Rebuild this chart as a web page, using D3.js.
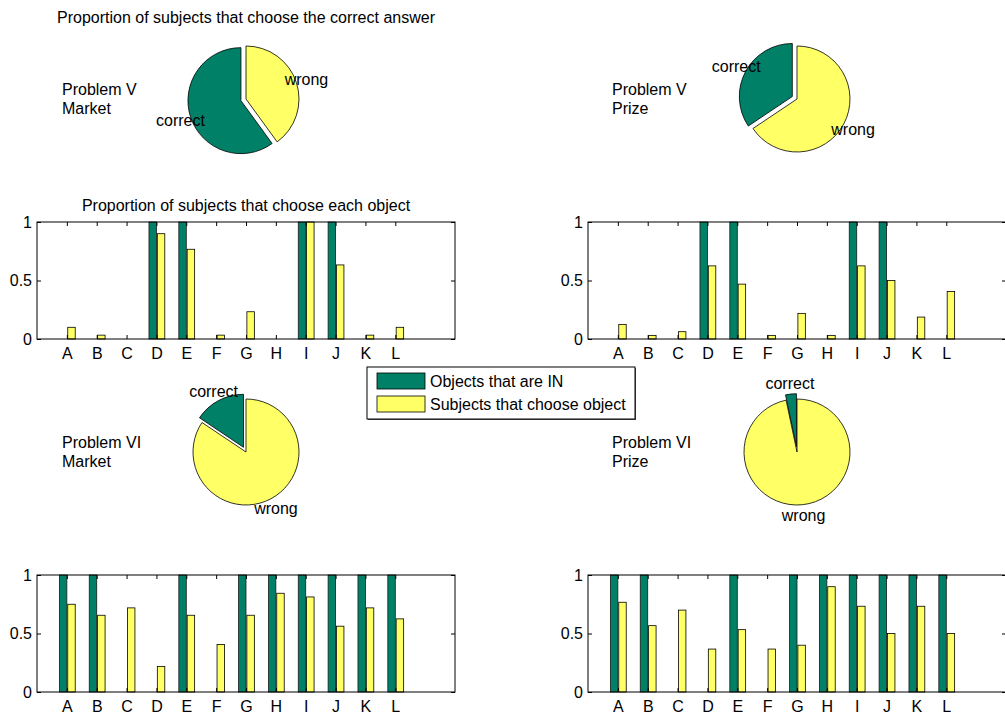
<!DOCTYPE html>
<html>
<head>
<meta charset="utf-8">
<script src="https://cdn.jsdelivr.net/npm/d3@7"></script>
<style>
  body { margin: 0; background: #fff; }
  text { font-family: "Liberation Sans", Arial, sans-serif; font-size: 16px; fill: #000; }
</style>
</head>
<body>
<svg id="fig" width="1005" height="718"></svg>
<script>
// data
var categories = ["A","B","C","D","E","F","G","H","I","J","K","L"];
var yTicks = [0, 0.5, 1];

var inV  = [0,0,0,1,1,0,0,0,1,1,0,0];
var inVI = [1,1,0,0,1,0,1,1,1,1,1,1];

var chooseVMarket  = [0.1, 0.033, 0, 0.9, 0.767, 0.033, 0.233, 0, 1.0, 0.633, 0.033, 0.1];
var chooseVPrize   = [0.125, 0.031, 0.0625, 0.625, 0.469, 0.031, 0.219, 0.031, 0.625, 0.5, 0.1875, 0.406];
var chooseVIMarket = [0.75, 0.656, 0.719, 0.219, 0.656, 0.406, 0.656, 0.844, 0.8125, 0.5625, 0.719, 0.625];
var chooseVIPrize  = [0.767, 0.567, 0.7, 0.367, 0.533, 0.367, 0.4, 0.9, 0.733, 0.5, 0.733, 0.5];

var pieLabels = ["correct", "wrong"];
var pieVMarket  = [0.6, 0.4];
var pieVPrize   = [0.344, 0.656];
var pieVIMarket = [0.156, 0.844];
var pieVIPrize  = [0.033, 0.967];

var legendLabels = ["Objects that are IN", "Subjects that choose object"];

var GREEN = "#008066";
var YELLOW = "#ffff66";

var svg = d3.select("#fig");

function drawBars(x0, y0, inVals, chooseVals)
{
  var w = 418, h = 117;
  var x = d3.scaleLinear().domain([0, 14]).range([x0, x0 + w]);
  var y = d3.scaleLinear().domain([0, 1]).range([y0 + h, y0]);
  var g = svg.append("g");
  var idx = d3.range(1, 13);

  g.selectAll("rect.in").data(inVals).enter().append("rect")
    .attr("x", (d, i) => x(i + 1 - 0.25))
    .attr("width", x(0.25) - x(0))
    .attr("y", d => y(d))
    .attr("height", d => y(0) - y(d))
    .attr("fill", GREEN)
    .attr("stroke", "#1a1a1a")
    .attr("stroke-width", 0.8);

  g.selectAll("rect.ch").data(chooseVals).enter().append("rect")
    .attr("x", (d, i) => x(i + 1 + 0.03))
    .attr("width", x(0.25) - x(0))
    .attr("y", d => y(d))
    .attr("height", d => y(0) - y(d))
    .attr("fill", YELLOW)
    .attr("stroke", "#000")
    .attr("stroke-width", 0.8);

  g.append("rect")
    .attr("x", x0).attr("y", y0).attr("width", w).attr("height", h)
    .attr("fill", "none").attr("stroke", "#000").attr("stroke-width", 1);

  var left = g.append("g").attr("transform", `translate(${x0},0)`)
    .call(d3.axisLeft(y).tickValues(yTicks).tickSize(-4).tickSizeOuter(0).tickPadding(5).tickFormat(d => String(d)));
  var right = g.append("g").attr("transform", `translate(${x0 + w},0)`)
    .call(d3.axisRight(y).tickValues(yTicks).tickSize(-4).tickSizeOuter(0).tickFormat(""));
  var top = g.append("g").attr("transform", `translate(0,${y0})`)
    .call(d3.axisTop(x).tickValues(idx).tickSize(-4).tickSizeOuter(0).tickFormat(""));
  var bottom = g.append("g").attr("transform", `translate(0,${y0 + h})`)
    .call(d3.axisBottom(x).tickValues(idx).tickSize(-4).tickSizeOuter(0).tickPadding(9).tickFormat(d => categories[d - 1]));

  [left, right, top, bottom].forEach(a => {
    a.select(".domain").remove();
    a.selectAll("line").attr("stroke", "#000");
    a.selectAll("text").style("font-size", "16px").attr("fill", "#000").style("font-family", "Liberation Sans, Arial, sans-serif");
  });
}

function drawPie(cx, cy, values, title1, title2, tx)
{
  var r = 53;
  var pie = d3.pie().sort(null).startAngle(0).endAngle(-2 * Math.PI);
  var arc = d3.arc().innerRadius(0).outerRadius(r);
  var arcs = pie(values);
  var g = svg.append("g").attr("transform", `translate(${cx},${cy})`);

  arcs.forEach((a, i) => {
    var mid = (a.startAngle + a.endAngle) / 2;
    var off = i == 0 ? 0.1 * r : 0;
    var dx = Math.sin(mid) * off, dy = -Math.cos(mid) * off;
    g.append("path")
      .attr("d", arc(a))
      .attr("transform", `translate(${dx},${dy})`)
      .attr("fill", i == 0 ? GREEN : YELLOW)
      .attr("stroke", "#000")
      .attr("stroke-width", 0.8);
    g.append("text")
      .attr("x", dx + Math.sin(mid) * 1.2 * r)
      .attr("y", dy - Math.cos(mid) * 1.2 * r)
      .attr("dy", "0.35em")
      .attr("text-anchor", "middle")
      .text(pieLabels[i]);
  });

  svg.append("text").attr("x", tx).attr("y", cy - 4).text(title1);
  svg.append("text").attr("x", tx).attr("y", cy + 14.5).text(title2);
}

svg.append("text").attr("x", 246).attr("y", 23).attr("text-anchor", "middle")
  .text("Proportion of subjects that choose the correct answer");
svg.append("text").attr("x", 246).attr("y", 211).attr("text-anchor", "middle")
  .text("Proportion of subjects that choose each object");

drawPie(246, 99, pieVMarket, "Problem V", "Market", 62);
drawPie(797, 99, pieVPrize, "Problem V", "Prize", 612);
drawPie(246, 452, pieVIMarket, "Problem VI", "Market", 62);
drawPie(797, 452, pieVIPrize, "Problem VI", "Prize", 612);

drawBars(37, 222, inV, chooseVMarket);
drawBars(588, 222, inV, chooseVPrize);
drawBars(37, 575, inVI, chooseVIMarket);
drawBars(588, 575, inVI, chooseVIPrize);

// legend
var lg = svg.append("g");
lg.append("rect").attr("x", 368).attr("y", 368).attr("width", 268).attr("height", 52).attr("fill", "#555");
lg.append("rect").attr("x", 367).attr("y", 367).attr("width", 268).attr("height", 52)
  .attr("fill", "#fff").attr("stroke", "#000").attr("stroke-width", 1);
legendLabels.forEach((t, i) => {
  lg.append("rect").attr("x", 377).attr("y", 373 + i * 23).attr("width", 48).attr("height", 16)
    .attr("fill", i == 0 ? GREEN : YELLOW).attr("stroke", "#000").attr("stroke-width", 0.8);
  lg.append("text").attr("x", 430).attr("y", 387 + i * 23).text(t);
});
</script>
</body>
</html>
